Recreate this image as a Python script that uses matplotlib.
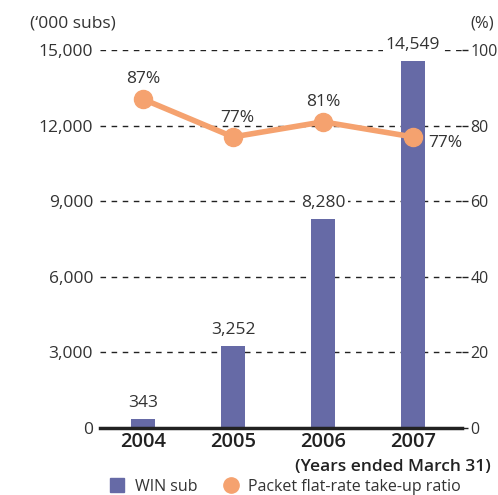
import matplotlib.pyplot as plt
from matplotlib.lines import Line2D

plt.rcParams['font.family'] = ['Open Sans', 'DejaVu Sans']

years = ["2004", "2005", "2006", "2007"]
win_subs = [343, 3252, 8280, 14549]
ratio = [87, 77, 81, 77]
bar_labels = ["343", "3,252", "8,280", "14,549"]
ratio_labels = ["87%", "77%", "81%", "77%"]

bar_color = "#666aa6"
line_color = "#f5a26f"
text_color = "#333333"

fig = plt.figure(figsize=(4.98, 4.95), dpi=100)
ax = fig.add_axes([100 / 498, 67 / 495, 362 / 498, 378 / 495])
x = list(range(len(years)))

ax.bar(x, win_subs, width=0.26, color=bar_color, zorder=2)
ax.set_xlim(-0.478, 3.544)
ax.set_ylim(0, 15000)
ax.set_yticks([0, 3000, 6000, 9000, 12000, 15000])
ax.set_yticklabels(["0", "3,000", "6,000", "9,000", "12,000", "15,000"])
ax.set_xticks(x)
ax.set_xticklabels(years, fontsize=14.5, fontweight="semibold", color="#222222")
ax.tick_params(axis="x", length=0, pad=3)
ax.tick_params(axis="y", length=0, pad=5, labelsize=12.5, labelcolor=text_color)
ax.grid(axis="y", linestyle=(0, (4, 4)), color="#222222", linewidth=1, zorder=0)
for s in ["top", "left", "right"]:
    ax.spines[s].set_visible(False)
ax.spines["bottom"].set_linewidth(2.5)
ax.spines["bottom"].set_color("#222222")
ax.spines["bottom"].set_zorder(5)

for xi, v, lab in zip(x, win_subs, bar_labels):
    ax.text(xi, v + 330, lab, ha="center", va="bottom", fontsize=12.5, color=text_color,
            bbox=dict(facecolor="white", edgecolor="none", pad=2), zorder=3)

ax2 = ax.twinx()
ax2.set_ylim(0, 100)
ax2.set_yticks([0, 20, 40, 60, 80, 100])
ax2.tick_params(axis="y", length=4, width=1, pad=2, labelsize=11.5, labelcolor=text_color, color="#222222")
for s in ["top", "left", "right", "bottom"]:
    ax2.spines[s].set_visible(False)
ax2.plot(x, ratio, color=line_color, linewidth=4, marker="o", markersize=13, zorder=4)
offsets = [(0, 3.2, "center", "bottom"), (0.05, 2.8, "center", "bottom"),
           (0, 3.0, "center", "bottom"), (0.17, -1.6, "left", "center")]
for xi, v, lab, (dx, dy, ha, va) in zip(x, ratio, ratio_labels, offsets):
    ax2.text(xi + dx, v + dy, lab, ha=ha, va=va, fontsize=12.5, color=text_color, zorder=6)

fig.text(30 / 498, 1 - 24 / 495, "(\u2018000 subs)", ha="left", va="center", fontsize=12.5, color=text_color)
fig.text(494 / 498, 1 - 24 / 495, "(%)", ha="right", va="center", fontsize=12, color=text_color)
fig.text(491 / 498, 1 - 467 / 495, "(Years ended March 31)", ha="right", va="center",
         fontsize=12.5, fontweight="semibold", color="#222222")

handles = [Line2D([], [], linestyle="none", marker="s", markersize=10, color=bar_color),
           Line2D([], [], linestyle="none", marker="o", markersize=11, color=line_color)]
fig.legend(handles, ["WIN sub", "Packet flat-rate take-up ratio"], loc="center",
           bbox_to_anchor=(281 / 498, 1 - 487 / 495), ncol=2, frameon=False,
           fontsize=11.5, handletextpad=0.1, columnspacing=1.1, labelcolor=text_color,
           borderaxespad=0, borderpad=0)

fig.savefig("out.png", dpi=100)
